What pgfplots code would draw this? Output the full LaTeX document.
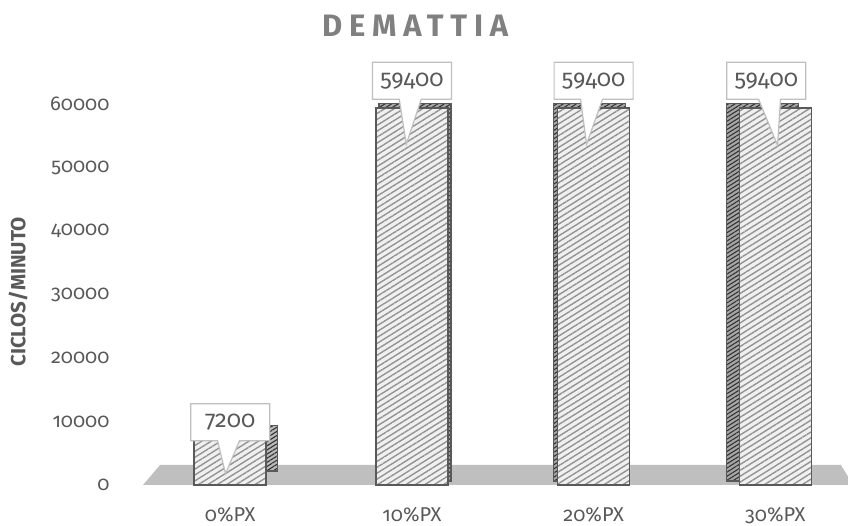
\documentclass[border=0pt]{standalone}
\usepackage{pgfplots}
\pgfplotsset{compat=1.18}
\usepackage{fontspec}
\setmainfont{Fira Sans}[Numbers=OldStyle]
\usetikzlibrary{patterns.meta,shapes.callouts}

\definecolor{txt}{HTML}{595959}
\definecolor{ttl}{HTML}{808080}
\definecolor{edge}{HTML}{595959}
\definecolor{floorgray}{HTML}{BFBFBF}

\tikzset{
  front/.style={fill=gray!12, draw=edge, line width=1.5pt,
    postaction={pattern={Lines[angle=32,distance=5pt,line width=1.4pt]}, pattern color=gray!85}},
  side/.style={fill=gray!70, draw=edge, line width=1.2pt,
    postaction={pattern={Lines[angle=32,distance=3.5pt,line width=1.1pt]}, pattern color=black!80}},
  tag/.style={rectangle callout, draw=gray!50, line width=1.2pt, fill=white, text=txt,
    font=\fontsize{23.5}{23.5}\selectfont, minimum width=79pt, minimum height=37pt, inner sep=0pt,
    callout pointer width=22pt},
}

\begin{document}
\begin{tikzpicture}
\begin{axis}[
  at={(0,0)}, anchor=south west,
  scale only axis, width=705pt, height=393.7pt,
  xmin=-0.48, xmax=3.40, ymin=0, ymax=62000,
  clip=false,
  axis line style={draw=none}, tick style={draw=none},
  xtick={0,1,2,3},
  xticklabels={0\%PX,10\%PX,20\%PX,30\%PX},
  ytick={0,10000,20000,30000,40000,50000,60000},
  scaled y ticks=false,
  /pgf/number format/.cd, assume math mode=true, 1000 sep={},
  /pgfplots/.cd,
  ticklabel style={text=txt, font=\fontsize{20}{20}\selectfont},
  yticklabel style={xshift=-30pt},
  xticklabel style={yshift=-14pt},
  ylabel={CICLOS/MINUTO},
  ylabel style={at={(axis description cs:-0.177,0.49)}, anchor=center,
    text=txt, font=\fontsize{20.5}{20.5}\selectfont\bfseries},
  title={DEMATTIA},
  title style={at={(axis description cs:0.386,1.152)}, anchor=center, text=ttl,
    font=\fontsize{31}{31}\selectfont\bfseries\addfontfeatures{LetterSpace=22}},
  ybar, bar width=72pt, bar shift=0pt,
]
% floor
\fill[floorgray] (axis cs:-0.48,0) -- (axis cs:-0.386,3150) -- (axis cs:3.361,3150)
  -- (axis cs:3.405,1100) -- (axis cs:3.405,0) -- cycle;

% depth faces
\addplot[side, fill=gray!55, xshift=11pt, yshift=14pt] coordinates {(0,7200)};
\addplot[side, xshift=3pt, yshift=4pt] coordinates {(1,59400)};
\addplot[side, xshift=-4pt, yshift=4pt] coordinates {(2,59400)};
\addplot[side, xshift=-13pt, yshift=4pt] coordinates {(3,59400)};

% front faces with value callouts
\addplot[front, nodes near coords,
  nodes near coords style={tag, anchor=south, yshift=-2pt, callout relative pointer={(-3pt,-33pt)}}]
  coordinates {(0,7200)};
\addplot[front, nodes near coords,
  nodes near coords style={tag, anchor=south, yshift=8pt, callout relative pointer={(-4pt,-45pt)}}]
  coordinates {(1,59400)};
\addplot[front, nodes near coords,
  nodes near coords style={tag, anchor=south, yshift=8pt, callout relative pointer={(-5pt,-45pt)}}]
  coordinates {(2,59400)};
\addplot[front, nodes near coords,
  nodes near coords style={tag, anchor=south, yshift=8pt, xshift=-9pt, callout relative pointer={(8pt,-46pt)}}]
  coordinates {(3,59400)};
\end{axis}
\pgfresetboundingbox
\path (-143pt,-41pt) rectangle (705pt,485pt);
\end{tikzpicture}
\end{document}
